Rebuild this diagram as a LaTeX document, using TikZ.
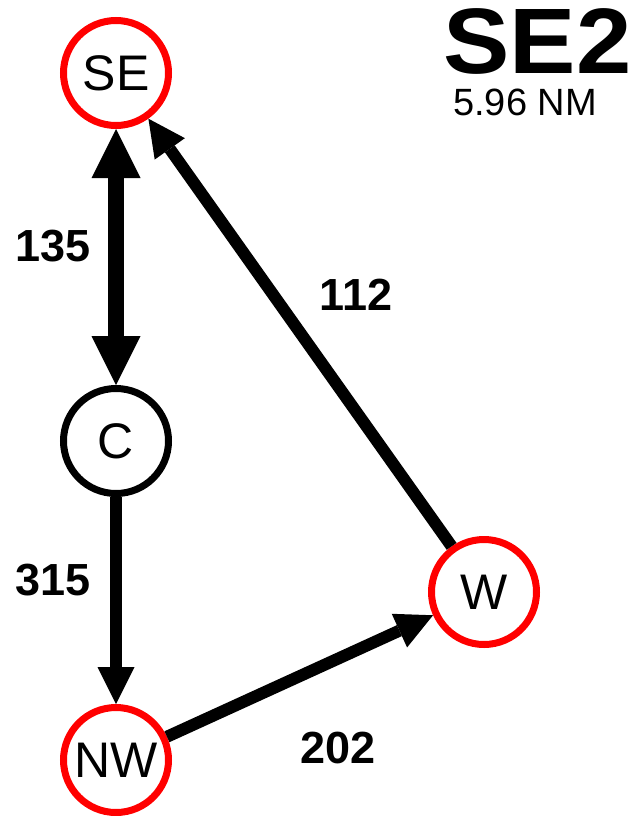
\documentclass[tikz,border=0pt]{standalone}
\usepackage{fontspec}
\setmainfont{Liberation Sans}
\usetikzlibrary{arrows.meta}
\begin{document}
\begin{tikzpicture}[x=1pt,y=-1pt,
  station/.style={circle, draw=red, line width=7pt, minimum size=105pt, inner sep=0pt,
    font=\fontsize{50}{50}\selectfont},
  center/.style={station, draw=black},
  bigarrow/.style={line width=16pt,
    {Triangle[length=49pt,width=49pt,line width=0pt]}-{Triangle[length=49pt,width=49pt,line width=0pt]}},
  arrowline/.style={line width=12pt, -{Triangle[length=37pt,width=37pt,line width=0pt]}},
  lbl/.style={anchor=base, inner sep=0pt, font=\bfseries\fontsize{45}{45}\selectfont}]
\useasboundingbox (0,0) rectangle (641,816);
\node[station] (SE) at (116,73) {SE};
\node[center] (C) at (116,441) {C};
\node[station] (NW) at (116,760) {NW};
\node[station] (W) at (484,592) {W};
\draw[bigarrow] (SE) -- (C);
\draw[arrowline] (C) -- (NW);
\draw[arrowline] (NW) -- (W);
\draw[arrowline] (W) -- (SE);
\node[lbl] (l135) at (53,261) {135};
\node[lbl] (l315) at (53,595) {315};
\node[lbl] (l202) at (338,763) {202};
\node[lbl] (l112) at (356,310) {112};
\node[anchor=base, inner sep=0pt, font=\bfseries\fontsize{93}{93}\selectfont] (title) at (537.5,74) {\scalebox{1.07}[1]{SE2}};
\node[anchor=base, inner sep=0pt, font=\fontsize{38}{38}\selectfont] (dist) at (525,115) {5.96 NM};
\end{tikzpicture}
\end{document}
